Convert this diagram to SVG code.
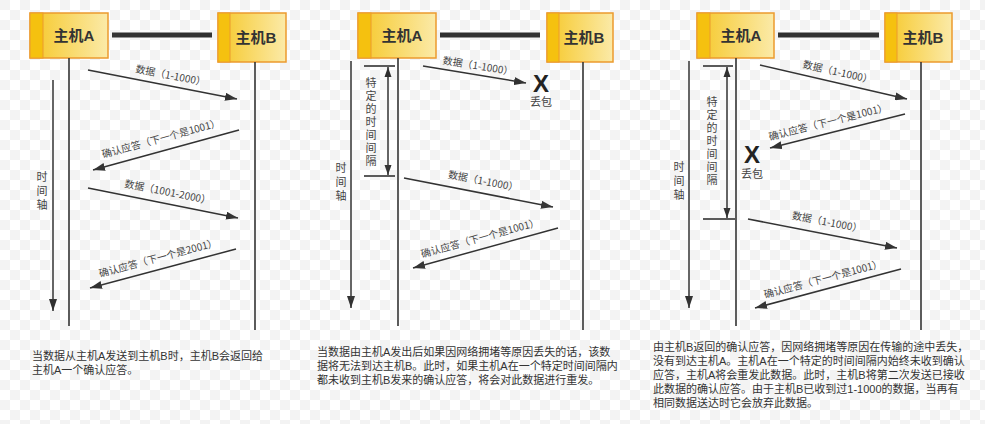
<svg xmlns="http://www.w3.org/2000/svg" width="985" height="424" viewBox="0 0 985 424">
<defs>
<pattern id="chk" width="20" height="20" patternUnits="userSpaceOnUse">
<rect width="20" height="20" fill="#ffffff"/>
<rect width="10" height="10" fill="#f3f3f3"/>
<rect x="10" y="10" width="10" height="10" fill="#f3f3f3"/>
</pattern>
<linearGradient id="boxg" x1="0" y1="0" x2="1" y2="0">
<stop offset="0" stop-color="#f6c829"/>
<stop offset="1" stop-color="#fbeaa8"/>
</linearGradient>
<marker id="ah" markerUnits="userSpaceOnUse" markerWidth="12" markerHeight="8" refX="12" refY="4" orient="auto">
<path d="M0,0 L12,4 L0,8 z" fill="#333"/>
</marker>
<marker id="ahs" markerUnits="userSpaceOnUse" markerWidth="10" markerHeight="8" refX="10" refY="4" orient="auto-start-reverse">
<path d="M0,0.5 L10,4 L0,7.5 z" fill="#333"/>
</marker>
</defs>
<style>
.box{fill:url(#boxg);stroke:#ec9a2e;stroke-width:1.5}
.stripe{fill:#f5c10f;stroke:#ec9a2e;stroke-width:1}
.host{font-family:"Liberation Sans","Noto Sans CJK SC",sans-serif;font-size:15px;font-weight:bold;fill:#333;text-anchor:middle}
.link{stroke:#333;stroke-width:5}
.life{stroke:#333;stroke-width:1.6;fill:none}
.arr{stroke:#333;stroke-width:1.5;fill:none;marker-end:url(#ah)}
.tick{stroke:#333;stroke-width:1.6}
.dbl{stroke:#333;stroke-width:1.5;marker-start:url(#ahs);marker-end:url(#ahs)}
.lbl{font-family:"Noto Sans CJK SC","Liberation Sans",sans-serif;font-size:10px;fill:#444;text-anchor:middle}
.vt{font-family:"Liberation Sans","Noto Sans CJK SC",sans-serif;font-size:11px;fill:#444;text-anchor:middle}
.x{font-family:"Liberation Sans",sans-serif;font-size:24px;font-weight:bold;fill:#222}
.cap{font-family:"Liberation Sans","Noto Sans CJK SC",sans-serif;font-size:11px;fill:#333}
</style>
<rect width="985" height="424" fill="url(#chk)"/>

<!-- Panel 1 -->
<g id="p1-hostA"><rect class="box" x="30" y="13" width="78" height="45"/><rect class="stripe" x="30" y="13" width="13" height="45"/><text class="host" x="74" y="41">主机A</text></g>
<g id="p1-hostB"><rect class="box" x="218" y="13" width="68" height="49"/><rect class="stripe" x="218" y="13" width="12" height="49"/><text class="host" x="256" y="43">主机B</text></g>
<g id="p1-connectors">
<line class="link" x1="112" y1="35" x2="212" y2="35"/>
<line class="life" x1="69" y1="58" x2="69" y2="326"/>
<line class="life" x1="255" y1="62" x2="255" y2="330"/>
<line class="arr" x1="53" y1="80" x2="53" y2="311"/>
<line class="arr" x1="88" y1="70" x2="237" y2="99"/>
<line class="arr" x1="239" y1="130" x2="93" y2="170"/>
<line class="arr" x1="88" y1="188" x2="238" y2="218"/>
<line class="arr" x1="236" y1="249" x2="90" y2="288"/>
</g>
<g id="p1-labels">
<text class="vt" x="42" y="181">时<tspan x="42" dy="14">间</tspan><tspan x="42" dy="14">轴</tspan></text>
<text class="lbl" transform="translate(170,79) rotate(11)">数据（1-1000）</text>
<text class="lbl" transform="translate(162,142) rotate(-15.3)">确认应答（下一个是1001）</text>
<text class="lbl" transform="translate(167,195.5) rotate(11.3)">数据（1001-2000）</text>
<text class="lbl" transform="translate(159,261.5) rotate(-15)">确认应答（下一个是2001）</text>
<text class="cap"><tspan x="32" y="360">当数据从主机A发送到主机B时，主机B会返回给</tspan><tspan x="32" y="374">主机A一个确认应答。</tspan></text>
</g>

<!-- Panel 2 -->
<g id="p2-hostA"><rect class="box" x="358" y="13" width="78" height="45"/><rect class="stripe" x="358" y="13" width="13" height="45"/><text class="host" x="402" y="41">主机A</text></g>
<g id="p2-hostB"><rect class="box" x="547" y="13" width="66" height="49"/><rect class="stripe" x="547" y="13" width="12" height="49"/><text class="host" x="584" y="43">主机B</text></g>
<g id="p2-connectors">
<line class="link" x1="440" y1="35" x2="540" y2="35"/>
<line class="life" x1="398" y1="58" x2="398" y2="326"/>
<line class="life" x1="583" y1="62" x2="583" y2="330"/>
<line class="arr" x1="351" y1="61" x2="351" y2="308"/>
<line class="tick" x1="364" y1="66" x2="395" y2="66"/>
<line class="tick" x1="364" y1="176" x2="395" y2="176"/>
<line class="dbl" x1="388" y1="67" x2="388" y2="175"/>
<line class="arr" x1="423" y1="66" x2="526" y2="83"/>
<line class="arr" x1="404" y1="178" x2="553" y2="207"/>
<line class="arr" x1="558" y1="228" x2="413" y2="268"/>
</g>
<g id="p2-labels">
<text class="vt" x="341" y="172">时<tspan x="341" dy="14">间</tspan><tspan x="341" dy="14">轴</tspan></text>
<text class="vt" x="371" y="87">特<tspan x="371" dy="13">定</tspan><tspan x="371" dy="13">的</tspan><tspan x="371" dy="13">时</tspan><tspan x="371" dy="13">间</tspan><tspan x="371" dy="13">间</tspan><tspan x="371" dy="13">隔</tspan></text>
<text class="lbl" transform="translate(477.5,69.5) rotate(9.4)">数据（1-1000）</text>
<text class="vt" x="541" y="92"><tspan class="x">X</tspan><tspan x="541" y="106">丢包</tspan></text>
<text class="lbl" transform="translate(482.5,184.5) rotate(11)">数据（1-1000）</text>
<text class="lbl" transform="translate(481,241.5) rotate(-15.4)">确认应答（下一个是1001）</text>
<text class="cap"><tspan x="317" y="356">当数据由主机A发出后如果因网络拥堵等原因丢失的话，该数</tspan><tspan x="317" y="370">据将无法到达主机B。此时，如果主机A在一个特定时间间隔内</tspan><tspan x="317" y="384">都未收到主机B发来的确认应答，将会对此数据进行重发。</tspan></text>
</g>

<!-- Panel 3 -->
<g id="p3-hostA"><rect class="box" x="697" y="13" width="77" height="45"/><rect class="stripe" x="697" y="13" width="13" height="45"/><text class="host" x="741" y="41">主机A</text></g>
<g id="p3-hostB"><rect class="box" x="885" y="13" width="67" height="49"/><rect class="stripe" x="885" y="13" width="12" height="49"/><text class="host" x="923" y="43">主机B</text></g>
<g id="p3-connectors">
<line class="link" x1="778" y1="35" x2="879" y2="35"/>
<line class="life" x1="736" y1="58" x2="736" y2="326"/>
<line class="life" x1="921" y1="62" x2="921" y2="330"/>
<line class="arr" x1="689" y1="61" x2="689" y2="308"/>
<line class="tick" x1="703" y1="66" x2="733" y2="66"/>
<line class="tick" x1="703" y1="219" x2="735" y2="219"/>
<line class="dbl" x1="727" y1="67" x2="727" y2="218"/>
<line class="arr" x1="760" y1="65" x2="907" y2="99"/>
<line class="arr" x1="905" y1="114" x2="770" y2="148"/>
<line class="arr" x1="748" y1="219" x2="897" y2="248"/>
<line class="arr" x1="901" y1="269" x2="755" y2="308"/>
</g>
<g id="p3-labels">
<text class="vt" x="679" y="171">时<tspan x="679" dy="14">间</tspan><tspan x="679" dy="14">轴</tspan></text>
<text class="vt" x="712" y="106">特<tspan x="712" dy="13">定</tspan><tspan x="712" dy="13">的</tspan><tspan x="712" dy="13">时</tspan><tspan x="712" dy="13">间</tspan><tspan x="712" dy="13">间</tspan><tspan x="712" dy="13">隔</tspan></text>
<text class="lbl" transform="translate(837,75.5) rotate(13)">数据（1-1000）</text>
<text class="lbl" transform="translate(829,125.5) rotate(-14.1)">确认应答（下一个是1001）</text>
<text class="vt" x="752" y="163"><tspan class="x">X</tspan><tspan x="752" y="178">丢包</tspan></text>
<text class="lbl" transform="translate(826.5,225.5) rotate(11)">数据（1-1000）</text>
<text class="lbl" transform="translate(824,282.5) rotate(-15)">确认应答（下一个是1001）</text>
<text class="cap"><tspan x="653" y="351">由主机B返回的确认应答，因网络拥堵等原因在传输的途中丢失，</tspan><tspan x="653" y="365">没有到达主机A。主机A在一个特定的时间间隔内始终未收到确认</tspan><tspan x="653" y="379">应答，主机A将会重发此数据。此时，主机B将第二次发送已接收</tspan><tspan x="653" y="393">此数据的确认应答。由于主机B已收到过1-1000的数据，当再有</tspan><tspan x="653" y="407">相同数据送达时它会放弃此数据。</tspan></text>
</g>
</svg>
